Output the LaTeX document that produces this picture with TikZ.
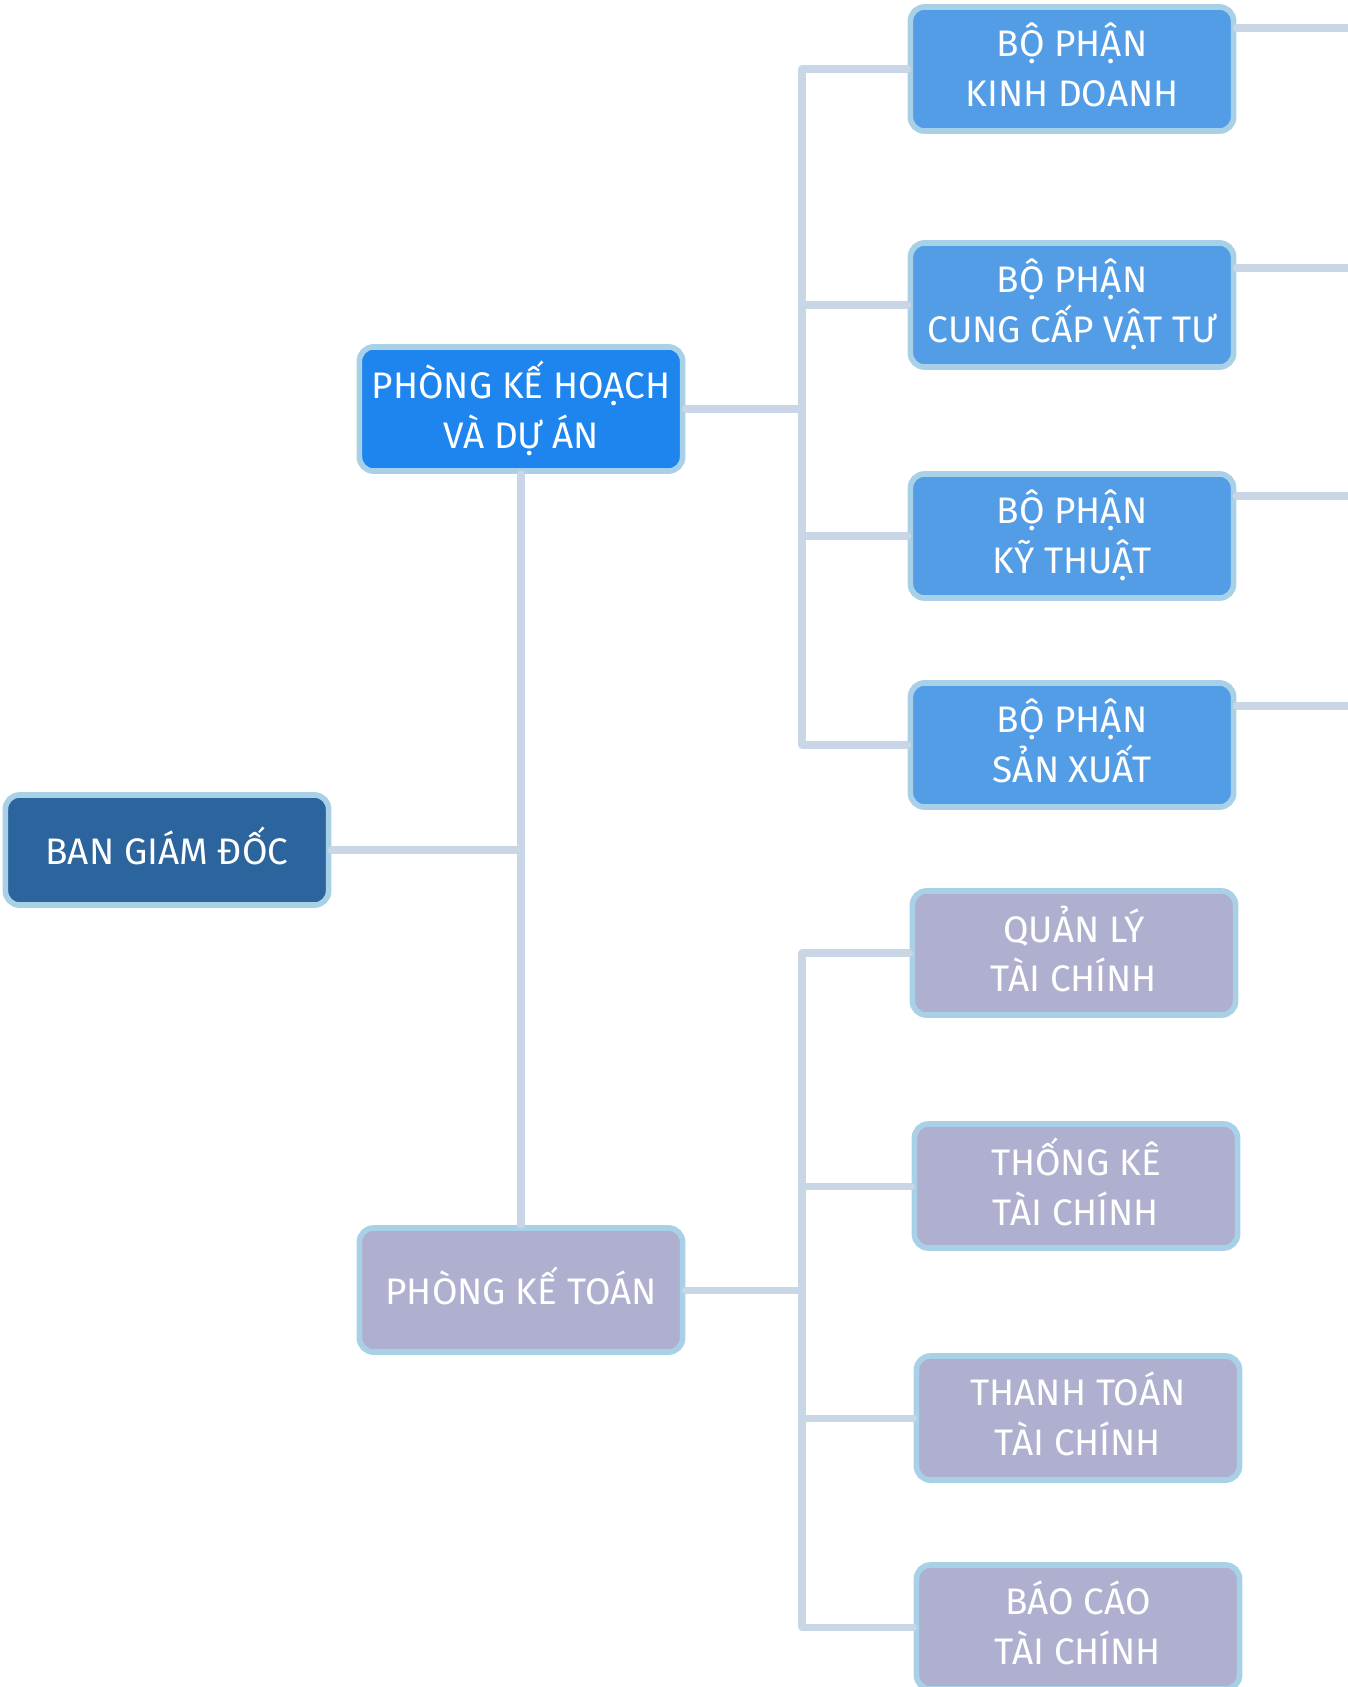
\documentclass[tikz,border=0pt]{standalone}
\usepackage{fontspec}
\setmainfont{Fira Sans}
\usepackage{tikz}
\usetikzlibrary{calc}
\definecolor{bossblue}{RGB}{44,100,157}
\definecolor{planblue}{RGB}{30,132,238}
\definecolor{unitblue}{RGB}{82,157,230}
\definecolor{acclilac}{RGB}{175,176,207}
\definecolor{rimblue}{RGB}{168,208,230}
\definecolor{wiregray}{RGB}{201,214,230}
\tikzstyle{box}=[draw=rimblue, line width=1.6pt, rounded corners=4pt, text=white, align=center,
  minimum width=3.23cm, minimum height=1.24cm, inner sep=0, font=\fontsize{10.5}{14}\selectfont,
  execute at end node={\rule[-2.5pt]{0pt}{0pt}}]
\tikzstyle{boss}=[box, fill=bossblue, minimum height=1.1cm]
\tikzstyle{plan}=[box, fill=planblue]
\tikzstyle{unit}=[box, fill=unitblue]
\tikzstyle{acc}=[box, fill=acclilac]
\tikzstyle{wire}=[draw=wiregray, line width=2pt, line cap=round]

\begin{document}
\begin{tikzpicture}[x=0.01cm, y=-0.01cm]
\useasboundingbox (0,0) rectangle (1347,1687);
% main nodes
\node[boss] (bgd) at (167,850) {BAN GIÁM ĐỐC};
\node[plan] (pkh) at (521,409) {PHÒNG KẾ HOẠCH\\VÀ DỰ ÁN};
\node[acc] (pkt) at (521,1290) {PHÒNG KẾ TOÁN};
% planning units
\node[unit] (kd) at (1072,69) {BỘ PHẬN\\KINH DOANH};
\node[unit] (cc) at (1072,305) {BỘ PHẬN\\CUNG CẤP VẬT TƯ};
\node[unit] (kt) at (1072,536) {BỘ PHẬN\\KỸ THUẬT};
\node[unit] (sx) at (1072,745) {BỘ PHẬN\\SẢN XUẤT};
% accounting units
\node[acc] (ql) at (1074,953) {QUẢN LÝ\\TÀI CHÍNH};
\node[acc] (tk) at (1076,1186) {THỐNG KÊ\\TÀI CHÍNH};
\node[acc] (tt) at (1078,1418) {THANH TOÁN\\TÀI CHÍNH};
\node[acc] (bc) at (1078,1627) {BÁO CÁO\\TÀI CHÍNH};
\coordinate (bus) at (802,0);
\coordinate (kd-out) at (1360,28);
\coordinate (cc-out) at (1360,268);
\coordinate (kt-out) at (1360,496);
\coordinate (sx-out) at (1360,706);
% connectors
\draw[wire] (bgd.east) -- (bgd.east -| pkh.south);
\draw[wire] (pkh.south) -- (pkt.north);
\draw[wire] (pkh.east) -- (pkh.east -| bus);
\draw[wire] (pkt.east) -- (pkt.east -| bus);
\draw[wire] (kd.west -| bus) -- (sx.west -| bus);
\draw[wire] (ql.west -| bus) -- (bc.west -| bus);
\foreach \c in {kd,cc,kt,sx,ql,tk,tt,bc}
  \draw[wire] (\c.west) -- (\c.west -| bus);
\foreach \c in {kd,cc,kt,sx}
  \draw[wire] (\c-out -| \c.east) -- (\c-out);
\end{tikzpicture}
\end{document}
